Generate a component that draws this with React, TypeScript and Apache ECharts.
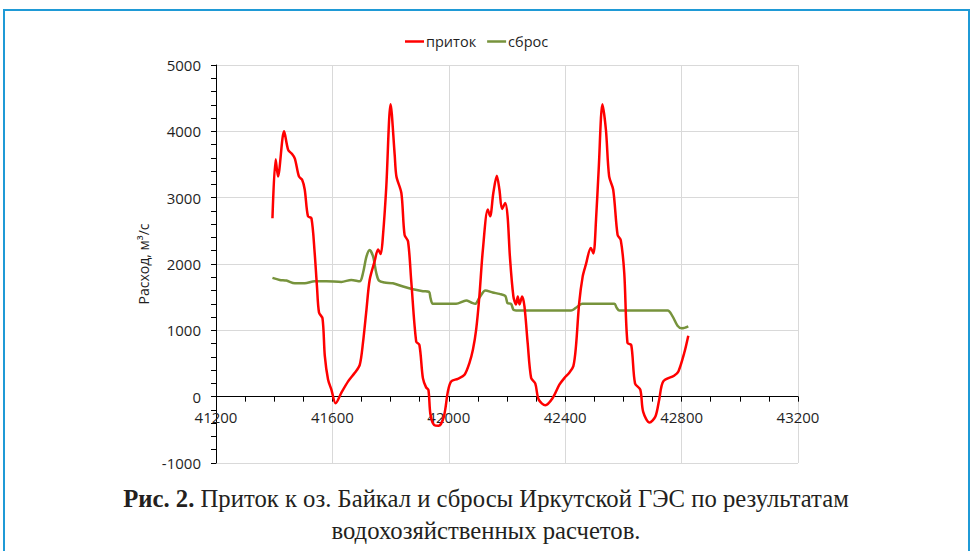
import React, { useEffect, useRef } from "react";
import * as echarts from "echarts";

const legendNames = ["приток", "сброс"];
const yAxisName = "Расход, м³/с";
const captionLine1Bold = "Рис. 2.";
const captionLine1 = " Приток к оз. Байкал и сбросы Иркутской ГЭС по результатам";
const captionLine2 = "водохозяйственных расчетов.";

const pritokX = [41394, 41405, 41413, 41434, 41448, 41461, 41471, 41485, 41496, 41505, 41516, 41528, 41539, 41547, 41554, 41566, 41574, 41585, 41597, 41611, 41631, 41654, 41677, 41694, 41705, 41717, 41728, 41745, 41757, 41766, 41774, 41785, 41800, 41814, 41820, 41837, 41848, 41860, 41871, 41888, 41899, 41911, 41922, 41930, 41937, 41950, 41965, 41983, 41997, 42008, 42031, 42054, 42071, 42083, 42094, 42105, 42117, 42134, 42142, 42153, 42165, 42174, 42183, 42194, 42202, 42210, 42222, 42231, 42237, 42243, 42252, 42260, 42271, 42283, 42297, 42309, 42332, 42357, 42380, 42397, 42414, 42428, 42437, 42448, 42460, 42471, 42488, 42497, 42506, 42515, 42528, 42540, 42551, 42565, 42580, 42591, 42603, 42614, 42627, 42640, 42658, 42668, 42690, 42710, 42723, 42737, 42774, 42789, 42809, 42823];
const pritokY = [2690, 3580, 3320, 4000, 3720, 3660, 3590, 3320, 3270, 3120, 2720, 2690, 2170, 1660, 1270, 1180, 610, 260, 100, -100, 60, 230, 360, 480, 810, 1310, 1760, 2040, 2220, 2150, 2440, 3150, 4410, 3650, 3320, 3070, 2440, 2340, 1740, 830, 780, 280, 140, 100, -270, -430, -440, -300, 80, 230, 270, 330, 510, 710, 1010, 1510, 2210, 2820, 2720, 3070, 3330, 3120, 2830, 2920, 2720, 2110, 1510, 1390, 1510, 1390, 1510, 1360, 810, 280, 200, -45, -130, -20, 180, 280, 360, 460, 760, 1410, 1810, 1990, 2240, 2160, 2670, 3420, 4410, 4020, 3320, 3120, 2440, 2360, 1860, 810, 780, 200, 105, -230, -390, -300, -45, 230, 316, 381, 658, 920];

const sbrosX = [41394, 41419, 41442, 41471, 41505, 41539, 41579, 41631, 41665, 41694, 41705, 41717, 41728, 41740, 41751, 41760, 41779, 41808, 41843, 41877, 41911, 41932, 41937, 41945, 41968, 42025, 42060, 42077, 42091, 42105, 42126, 42151, 42174, 42194, 42202, 42214, 42222, 42231, 42311, 42420, 42437, 42458, 42483, 42569, 42577, 42586, 42752, 42769, 42786, 42801, 42823];
const sbrosY = [1790, 1760, 1750, 1710, 1710, 1740, 1740, 1730, 1760, 1740, 1860, 2110, 2210, 2110, 1860, 1750, 1720, 1710, 1660, 1620, 1590, 1580, 1490, 1400, 1400, 1400, 1450, 1420, 1400, 1490, 1600, 1570, 1550, 1520, 1410, 1400, 1310, 1300, 1300, 1300, 1340, 1400, 1400, 1400, 1340, 1300, 1300, 1210, 1070, 1030, 1060];

const zip = (xs: number[], ys: number[]) => xs.map((x, i) => [x, ys[i]]);

export default function App() {
  const ref = useRef<HTMLDivElement>(null);
  useEffect(() => {
    if (!ref.current) return;
    const chart = echarts.init(ref.current, null, { renderer: "svg" });
    const labelColor = "#1f1f1f";
    const font = "Open Sans";
    const gridTop = 65;
    const gridBottom = 88;
    const gridHeight = 551 - gridTop - gridBottom;
    const yMin = -1000;
    const yMax = 5000;
    const zeroOffset = -gridHeight * (0 - yMin) / (yMax - yMin);
    chart.setOption({
      animation: false,
      backgroundColor: "#ffffff",
      textStyle: { fontFamily: font },
      legend: {
        data: legendNames,
        top: 29,
        left: 400,
        icon: "rect",
        itemWidth: 19,
        itemHeight: 2.5,
        itemGap: 11,
        textStyle: { fontSize: 14.5, color: labelColor, fontFamily: font, padding: [0, 0, 0, -3] },
      },
      grid: { left: 216, right: 174, top: gridTop, bottom: gridBottom, containLabel: false },
      xAxis: {
        type: "value",
        min: 41200,
        max: 43200,
        interval: 400,
        position: "bottom",
        offset: zeroOffset,
        axisLine: { onZero: false, lineStyle: { color: "#000", width: 1 } },
        axisTick: { show: true, length: 5, lineStyle: { color: "#000" } },
        minorTick: { show: true, splitNumber: 4, length: 5, lineStyle: { color: "#000" } },
        splitLine: { show: true, lineStyle: { color: "#d9d9d9", width: 1 } },
        axisLabel: { fontSize: 15, color: labelColor, margin: 13, fontFamily: font, formatter: (v: number) => String(v) },
      },
      yAxis: {
        type: "value",
        min: yMin,
        max: yMax,
        interval: 1000,
        name: yAxisName,
        nameLocation: "middle",
        nameGap: 62,
        nameTextStyle: { fontSize: 14, color: labelColor, fontFamily: font },
        axisLine: { show: true, lineStyle: { color: "#000", width: 1 } },
        axisTick: { show: true, length: 5, lineStyle: { color: "#000" } },
        minorTick: { show: true, splitNumber: 5, length: 5, lineStyle: { color: "#000" } },
        splitLine: { show: true, lineStyle: { color: "#d9d9d9", width: 1 } },
        axisLabel: { fontSize: 15, color: labelColor, margin: 15, fontFamily: font, formatter: (v: number) => String(v) },
      },
      series: [
        {
          name: legendNames[0],
          type: "line",
          data: zip(pritokX, pritokY),
          symbol: "none",
          smooth: 0.3,
          lineStyle: { color: "#ff0000", width: 2.5 },
          itemStyle: { color: "#ff0000" },
          z: 3,
        },
        {
          name: legendNames[1],
          type: "line",
          data: zip(sbrosX, sbrosY),
          symbol: "none",
          smooth: 0.3,
          lineStyle: { color: "#77933c", width: 2.5 },
          itemStyle: { color: "#77933c" },
          z: 2,
        },
      ],
      graphic: [
        {
          type: "rect",
          silent: true,
          shape: { x: 4, y: 10, width: 965, height: 560 },
          style: { fill: "none", stroke: "#1f9ad6", lineWidth: 2 },
        },
        {
          type: "text",
          x: 486,
          y: 498,
          style: {
            text: "{b|" + captionLine1Bold + "}" + captionLine1,
            fontFamily: "Liberation Serif",
            fontSize: 24.7,
            fill: "#231f20",
            align: "center",
            verticalAlign: "middle",
            rich: {
              b: { fontWeight: "bold", fontFamily: "Liberation Serif", fontSize: 24.7, fill: "#231f20" },
            },
          },
        },
        {
          type: "text",
          x: 486,
          y: 530,
          style: {
            text: captionLine2,
            fontFamily: "Liberation Serif",
            fontSize: 24.7,
            fill: "#231f20",
            align: "center",
            verticalAlign: "middle",
          },
        },
      ],
    });
    return () => chart.dispose();
  }, []);
  return (
    <div
      ref={ref}
      style={{ position: "fixed", left: 0, top: 0, width: 972, height: 551, background: "#fff" }}
    />
  );
}
